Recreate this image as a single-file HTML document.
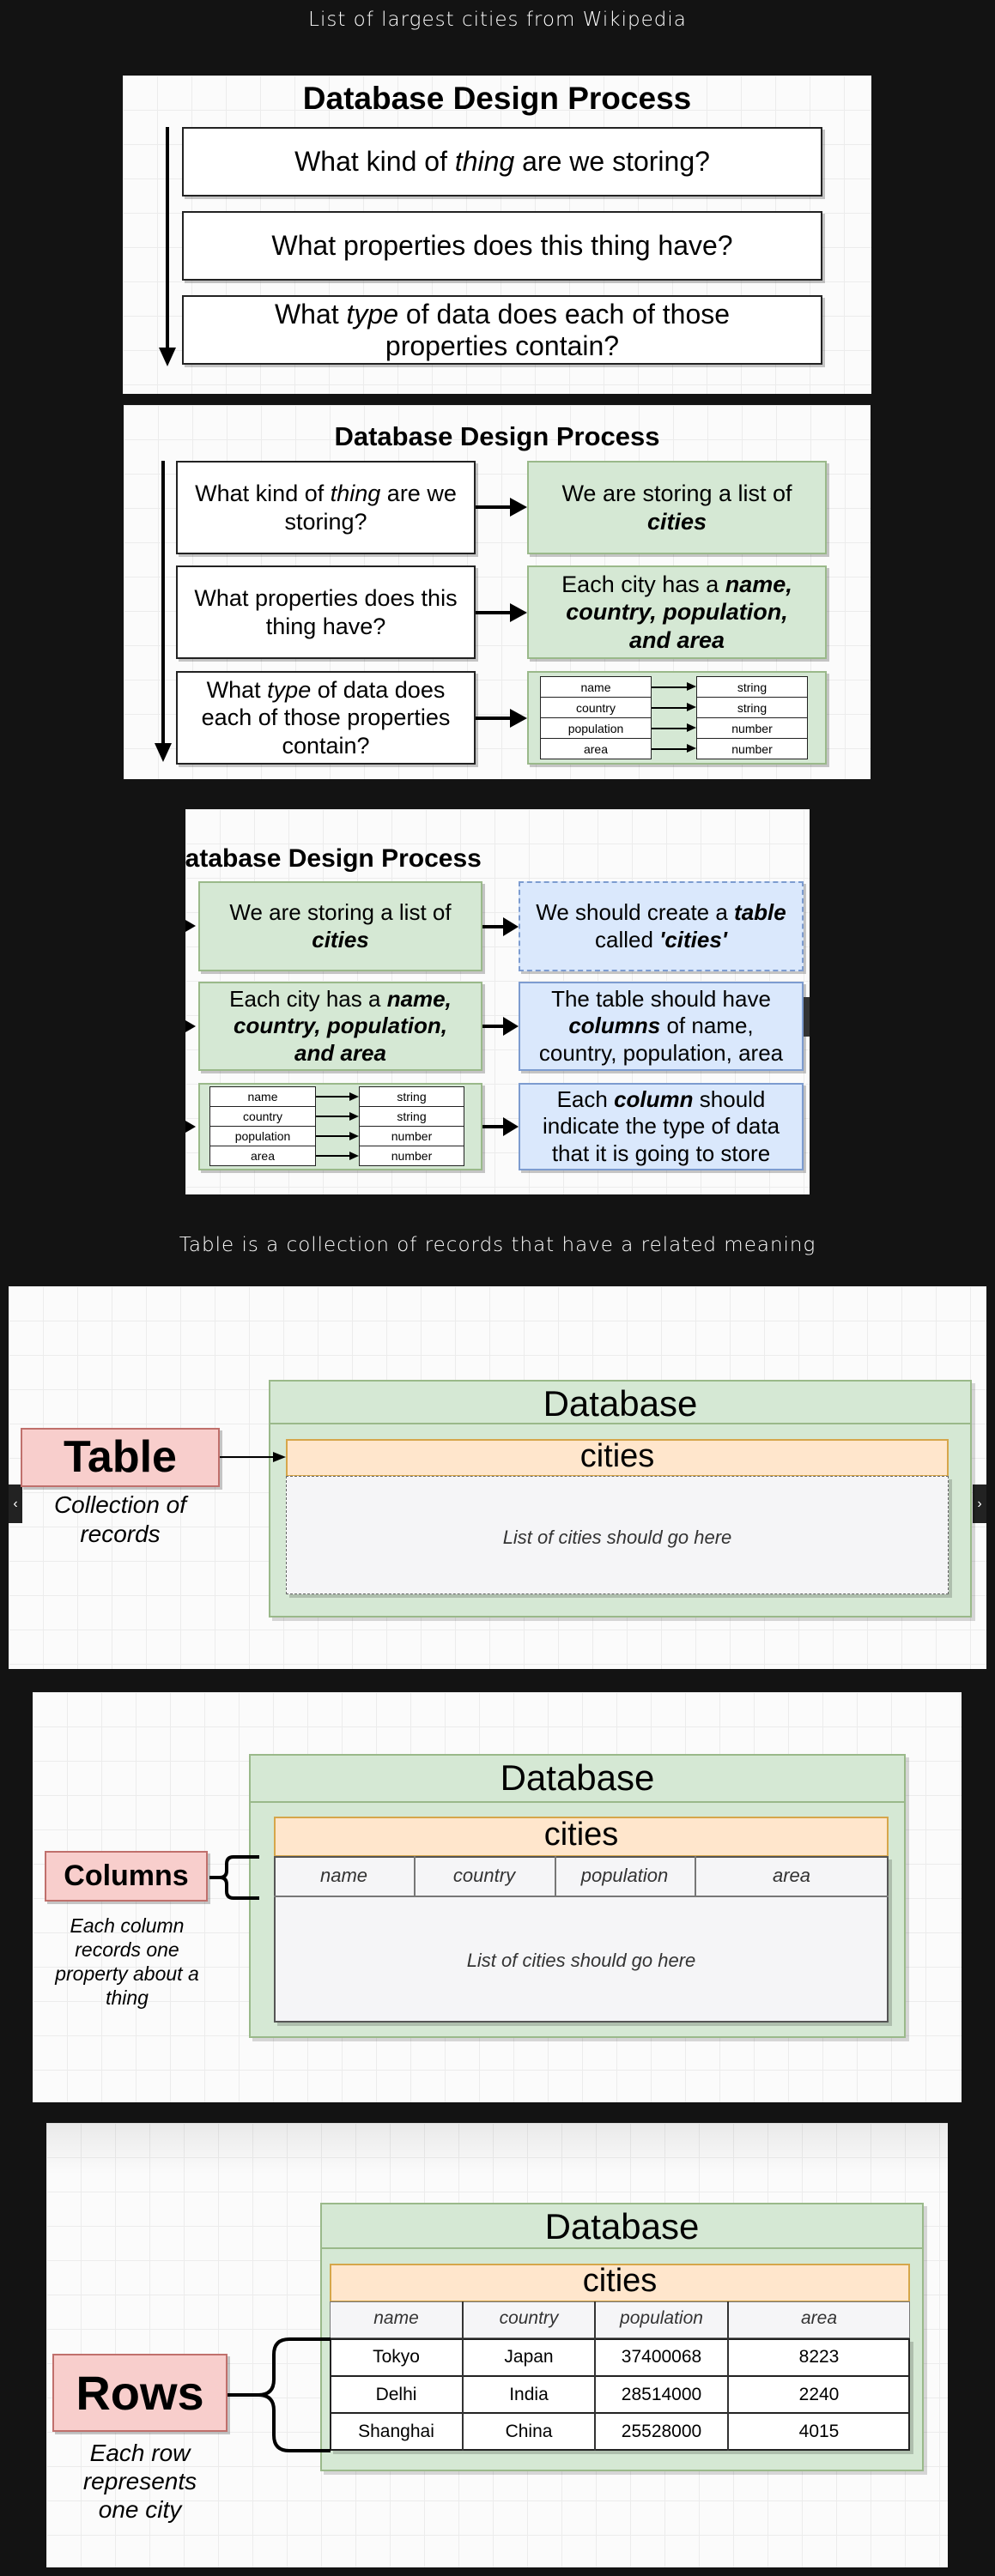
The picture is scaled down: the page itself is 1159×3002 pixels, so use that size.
<!DOCTYPE html>
<html><head><meta charset="utf-8"><style>
*{box-sizing:border-box;margin:0;padding:0}
body{width:1159px;height:3002px;background:#131313;position:relative;overflow:hidden;font-family:"Liberation Sans",Arial,sans-serif;color:#000}
.a{position:absolute}
.p{position:absolute;background-color:#fbfbfb;background-image:linear-gradient(#ececec 1px,transparent 1px),linear-gradient(90deg,#ececec 1px,transparent 1px);background-size:40px 40px}
.b{position:absolute;display:flex;align-items:center;justify-content:center;text-align:center;border:2px solid #222;background:#fff;box-shadow:3px 3px 0 rgba(0,0,0,.22);line-height:1.2}
.b>div{width:100%}
.g{background:#d5e8d4;border:2px solid #9ab98a}
.bl{background:#dae8fc;border:2px solid #7d9cd0}
.t{position:absolute;text-align:center;white-space:nowrap}
.hand{color:#fff;font-family:"DejaVu Sans",sans-serif;font-weight:200;font-size:23px;letter-spacing:1px}
.mini{position:absolute;background:#fff;border:1.5px solid #222;font-size:14px;display:flex;align-items:center;justify-content:center}
.line{position:absolute;background:#000}
.tri{position:absolute;width:0;height:0}
</style></head><body>

<div class="t hand" style="left:0;width:1159px;top:10px">List of largest cities from Wikipedia</div>

<!-- Panel 1 -->
<div class="p" style="left:143px;top:88px;width:872px;height:371px"></div>
<div class="t" style="left:143px;width:872px;top:94px;font-size:37px;font-weight:bold">Database Design Process</div>
<div class="line" style="left:193px;top:148px;width:4px;height:265px"></div>
<div class="tri" style="left:185px;top:405px;border-left:10px solid transparent;border-right:10px solid transparent;border-top:22px solid #000"></div>
<div class="b" style="left:212px;top:148px;width:746px;height:81px;font-size:32px"><div>What kind of <i>thing</i> are we storing?</div></div>
<div class="b" style="left:212px;top:246px;width:746px;height:81px;font-size:32px"><div>What properties does this thing have?</div></div>
<div class="b" style="left:212px;top:344px;width:746px;height:81px;font-size:32px;line-height:1.15"><div>What <i>type</i> of data does each of those<br>properties contain?</div></div>

<!-- Panel 2 -->
<div class="p" style="left:144px;top:472px;width:870px;height:436px"></div>
<div class="t" style="left:144px;width:870px;top:491px;font-size:31px;font-weight:bold">Database Design Process</div>
<div class="line" style="left:188px;top:537px;width:4px;height:335px"></div>
<div class="tri" style="left:180px;top:866px;border-left:10px solid transparent;border-right:10px solid transparent;border-top:22px solid #000"></div>
<div class="b" style="left:205px;top:537px;width:349px;height:109px;font-size:27px"><div>What kind of <i>thing</i> are we<br>storing?</div></div>
<div class="b" style="left:205px;top:659px;width:349px;height:109px;font-size:27px"><div>What properties does this<br>thing have?</div></div>
<div class="b" style="left:205px;top:782px;width:349px;height:109px;font-size:27px"><div>What <i>type</i> of data does<br>each of those properties<br>contain?</div></div>
<div class="b g" style="left:614px;top:537px;width:349px;height:109px;font-size:27px"><div>We are storing a list of<br><b><i>cities</i></b></div></div>
<div class="b g" style="left:614px;top:659px;width:349px;height:109px;font-size:27px"><div>Each city has a <b><i>name,</i></b><br><b><i>country, population,</i></b><br><b><i>and area</i></b></div></div>
<div class="b g" style="left:614px;top:782px;width:349px;height:109px"></div>
<div class="line" style="left:554px;top:589px;width:44px;height:4px"></div><div class="tri" style="left:594px;top:580px;border-top:11px solid transparent;border-bottom:11px solid transparent;border-left:20px solid #000"></div>
<div class="line" style="left:554px;top:712px;width:44px;height:4px"></div><div class="tri" style="left:594px;top:703px;border-top:11px solid transparent;border-bottom:11px solid transparent;border-left:20px solid #000"></div>
<div class="line" style="left:554px;top:835px;width:44px;height:4px"></div><div class="tri" style="left:594px;top:826px;border-top:11px solid transparent;border-bottom:11px solid transparent;border-left:20px solid #000"></div>
<div class="mini" style="left:629px;top:788px;width:130px;height:25px">name</div>
<div class="mini" style="left:629px;top:812px;width:130px;height:25px">country</div>
<div class="mini" style="left:629px;top:836px;width:130px;height:25px">population</div>
<div class="mini" style="left:629px;top:860px;width:130px;height:25px">area</div>
<div class="mini" style="left:811px;top:788px;width:130px;height:25px">string</div>
<div class="mini" style="left:811px;top:812px;width:130px;height:25px">string</div>
<div class="mini" style="left:811px;top:836px;width:130px;height:25px">number</div>
<div class="mini" style="left:811px;top:860px;width:130px;height:25px">number</div>
<div class="line" style="left:759px;top:800px;width:44px;height:1.5px"></div><div class="tri" style="left:800px;top:795px;border-top:5px solid transparent;border-bottom:5px solid transparent;border-left:11px solid #000"></div>
<div class="line" style="left:759px;top:824px;width:44px;height:1.5px"></div><div class="tri" style="left:800px;top:819px;border-top:5px solid transparent;border-bottom:5px solid transparent;border-left:11px solid #000"></div>
<div class="line" style="left:759px;top:848px;width:44px;height:1.5px"></div><div class="tri" style="left:800px;top:843px;border-top:5px solid transparent;border-bottom:5px solid transparent;border-left:11px solid #000"></div>
<div class="line" style="left:759px;top:872px;width:44px;height:1.5px"></div><div class="tri" style="left:800px;top:867px;border-top:5px solid transparent;border-bottom:5px solid transparent;border-left:11px solid #000"></div>

<!-- Panel 3 -->
<div class="p" style="left:216px;top:943px;width:727px;height:449px;overflow:hidden">
  <div class="t" style="left:-22px;top:41px;font-size:30px;font-weight:bold">Database Design Process</div>
</div>
<div class="b g" style="left:231px;top:1027px;width:331px;height:105px;font-size:26px"><div>We are storing a list of<br><b><i>cities</i></b></div></div>
<div class="b g" style="left:231px;top:1144px;width:331px;height:104px;font-size:26px"><div>Each city has a <b><i>name,</i></b><br><b><i>country, population,</i></b><br><b><i>and area</i></b></div></div>
<div class="b g" style="left:231px;top:1262px;width:331px;height:102px"></div>
<div class="b bl" style="left:604px;top:1027px;width:332px;height:105px;font-size:26px;border-style:dashed"><div>We should create a <b><i>table</i></b><br>called <b><i>'cities'</i></b></div></div>
<div class="b bl" style="left:604px;top:1144px;width:332px;height:104px;font-size:26px"><div>The table should have<br><b><i>columns</i></b> of name,<br>country, population, area</div></div>
<div class="b bl" style="left:604px;top:1262px;width:332px;height:102px;font-size:26px"><div>Each <b><i>column</i></b> should<br>indicate the type of data<br>that it is going to store</div></div>
<div class="a" style="left:936px;top:1162px;width:7px;height:46px;background:#333"></div>
<div class="line" style="left:562px;top:1078px;width:28px;height:4px"></div><div class="tri" style="left:586px;top:1069px;border-top:11px solid transparent;border-bottom:11px solid transparent;border-left:18px solid #000"></div>
<div class="line" style="left:562px;top:1194px;width:28px;height:4px"></div><div class="tri" style="left:586px;top:1185px;border-top:11px solid transparent;border-bottom:11px solid transparent;border-left:18px solid #000"></div>
<div class="line" style="left:562px;top:1311px;width:28px;height:4px"></div><div class="tri" style="left:586px;top:1302px;border-top:11px solid transparent;border-bottom:11px solid transparent;border-left:18px solid #000"></div>
<div class="tri" style="left:216px;top:1072px;border-top:7px solid transparent;border-bottom:7px solid transparent;border-left:12px solid #000"></div>
<div class="tri" style="left:216px;top:1189px;border-top:7px solid transparent;border-bottom:7px solid transparent;border-left:12px solid #000"></div>
<div class="tri" style="left:216px;top:1306px;border-top:7px solid transparent;border-bottom:7px solid transparent;border-left:12px solid #000"></div>
<div class="mini" style="left:244px;top:1266px;width:124px;height:24px">name</div>
<div class="mini" style="left:244px;top:1289px;width:124px;height:24px">country</div>
<div class="mini" style="left:244px;top:1312px;width:124px;height:24px">population</div>
<div class="mini" style="left:244px;top:1335px;width:124px;height:24px">area</div>
<div class="mini" style="left:418px;top:1266px;width:123px;height:24px">string</div>
<div class="mini" style="left:418px;top:1289px;width:123px;height:24px">string</div>
<div class="mini" style="left:418px;top:1312px;width:123px;height:24px">number</div>
<div class="mini" style="left:418px;top:1335px;width:123px;height:24px">number</div>
<div class="line" style="left:368px;top:1277px;width:42px;height:1.5px"></div><div class="tri" style="left:407px;top:1273px;border-top:5px solid transparent;border-bottom:5px solid transparent;border-left:11px solid #000"></div>
<div class="line" style="left:368px;top:1300px;width:42px;height:1.5px"></div><div class="tri" style="left:407px;top:1296px;border-top:5px solid transparent;border-bottom:5px solid transparent;border-left:11px solid #000"></div>
<div class="line" style="left:368px;top:1323px;width:42px;height:1.5px"></div><div class="tri" style="left:407px;top:1319px;border-top:5px solid transparent;border-bottom:5px solid transparent;border-left:11px solid #000"></div>
<div class="line" style="left:368px;top:1346px;width:42px;height:1.5px"></div><div class="tri" style="left:407px;top:1342px;border-top:5px solid transparent;border-bottom:5px solid transparent;border-left:11px solid #000"></div>

<div class="t hand" style="left:0;width:1159px;top:1438px">Table is a collection of records that have a related meaning</div>

<!-- Panel 4 -->
<div class="p" style="left:10px;top:1499px;width:1139px;height:446px"></div>
<div class="a" style="left:10px;top:1730px;width:16px;height:45px;background:#222;color:#fff;font-size:16px;text-align:center;line-height:45px">‹</div>
<div class="a" style="left:1133px;top:1730px;width:16px;height:45px;background:#222;color:#fff;font-size:16px;text-align:center;line-height:45px">›</div>
<div class="a g" style="left:313px;top:1608px;width:819px;height:277px;border:2px solid #9ab98a;box-shadow:4px 4px 0 rgba(0,0,0,.15)"></div>
<div class="a" style="left:313px;top:1658px;width:819px;height:2px;background:#9ab98a"></div>
<div class="t" style="left:313px;width:819px;top:1612px;font-size:42px">Database</div>
<div class="a" style="left:333px;top:1677px;width:772px;height:44px;background:#ffe6cc;border:2px solid #d6a64a"></div>
<div class="t" style="left:333px;width:772px;top:1676px;font-size:38px">cities</div>
<div class="a" style="left:333px;top:1720px;width:772px;height:138px;background:#f5f5f7;border:1.5px dashed #666;box-shadow:4px 4px 0 rgba(0,0,0,.18)"></div>
<div class="t" style="left:333px;width:772px;top:1779px;font-size:22px;font-style:italic;color:#333">List of cities should go here</div>
<div class="b" style="left:24px;top:1664px;width:232px;height:69px;background:#f8cecc;border:2px solid #c0706c;font-size:52px;font-weight:bold"><div>Table</div></div>
<div class="t" style="left:24px;width:232px;top:1737px;font-size:28px;font-style:italic;line-height:34px">Collection of<br>records</div>
<div class="line" style="left:256px;top:1697px;width:66px;height:2px"></div>
<div class="tri" style="left:318px;top:1692px;border-top:6px solid transparent;border-bottom:6px solid transparent;border-left:15px solid #000"></div>

<!-- Panel 5 -->
<div class="p" style="left:38px;top:1972px;width:1082px;height:478px"></div>
<div class="a g" style="left:290px;top:2044px;width:765px;height:331px;border:2px solid #9ab98a;box-shadow:4px 4px 0 rgba(0,0,0,.15)"></div>
<div class="a" style="left:290px;top:2099px;width:765px;height:2px;background:#9ab98a"></div>
<div class="t" style="left:290px;width:765px;top:2048px;font-size:42px">Database</div>
<div class="a" style="left:319px;top:2117px;width:716px;height:47px;background:#ffe6cc;border:2px solid #d6a64a"></div>
<div class="t" style="left:319px;width:716px;top:2117px;font-size:38px">cities</div>
<div class="a" style="left:319px;top:2163px;width:716px;height:194px;background:#f5f5f7;border:2px solid #555;box-shadow:4px 4px 0 rgba(0,0,0,.18)"></div>
<div class="a" style="left:319px;top:2209px;width:716px;height:2px;background:#777"></div>
<div class="a" style="left:482px;top:2163px;width:2px;height:47px;background:#777"></div>
<div class="a" style="left:646px;top:2163px;width:2px;height:47px;background:#777"></div>
<div class="a" style="left:809px;top:2163px;width:2px;height:47px;background:#777"></div>
<div class="t" style="left:319px;width:163px;top:2173px;font-size:22px;font-style:italic;color:#333">name</div>
<div class="t" style="left:482px;width:164px;top:2173px;font-size:22px;font-style:italic;color:#333">country</div>
<div class="t" style="left:646px;width:163px;top:2173px;font-size:22px;font-style:italic;color:#333">population</div>
<div class="t" style="left:809px;width:226px;top:2173px;font-size:22px;font-style:italic;color:#333">area</div>
<div class="t" style="left:319px;width:716px;top:2272px;font-size:22px;font-style:italic;color:#333">List of cities should go here</div>
<div class="b" style="left:52px;top:2157px;width:190px;height:59px;background:#f8cecc;border:2px solid #c0706c;font-size:34px;font-weight:bold"><div>Columns</div></div>
<div class="t" style="left:40px;width:216px;top:2230px;font-size:23px;font-style:italic;line-height:28px">Each column<br>records one<br>property about a<br>thing</div>
<svg class="a" style="left:240px;top:2160px" width="66" height="56"><path d="M4 28 H16 Q24 28 24 20 V12 Q24 4 32 4 H62 M16 28 Q24 28 24 36 V44 Q24 52 32 52 H62" fill="none" stroke="#000" stroke-width="4"/></svg>

<!-- Panel 6 -->
<div class="p" style="left:54px;top:2474px;width:1050px;height:518px"></div>
<div class="a" style="left:54px;top:2474px;width:1050px;height:60px;background:linear-gradient(rgba(0,0,0,.07),transparent)"></div>
<div class="a g" style="left:373px;top:2567px;width:703px;height:313px;border:2px solid #9ab98a;box-shadow:4px 4px 0 rgba(0,0,0,.15)"></div>
<div class="a" style="left:373px;top:2619px;width:703px;height:2px;background:#9ab98a"></div>
<div class="t" style="left:373px;width:703px;top:2571px;font-size:42px">Database</div>
<div class="a" style="left:384px;top:2638px;width:676px;height:45px;background:#ffe6cc;border:2px solid #d6a64a"></div>
<div class="t" style="left:384px;width:676px;top:2637px;font-size:38px">cities</div>
<div class="a" style="left:384px;top:2682px;width:676px;height:43px;background:#f5f5f7;border:1.5px solid #777"></div>
<div class="a" style="left:384px;top:2725px;width:676px;height:131px;background:#fff;border:2px solid #222;box-shadow:4px 4px 0 rgba(0,0,0,.18)"></div>
<div class="a" style="left:384px;top:2768px;width:676px;height:2px;background:#222"></div>
<div class="a" style="left:384px;top:2811px;width:676px;height:2px;background:#222"></div>
<div class="a" style="left:538px;top:2682px;width:2px;height:174px;background:#333"></div>
<div class="a" style="left:692px;top:2682px;width:2px;height:174px;background:#333"></div>
<div class="a" style="left:847px;top:2682px;width:2px;height:174px;background:#333"></div>
<div class="t" style="left:384px;width:155px;top:2690px;font-size:21px;font-style:italic;color:#333">name</div>
<div class="t" style="left:539px;width:154px;top:2690px;font-size:21px;font-style:italic;color:#333">country</div>
<div class="t" style="left:693px;width:155px;top:2690px;font-size:21px;font-style:italic;color:#333">population</div>
<div class="t" style="left:848px;width:212px;top:2690px;font-size:21px;font-style:italic;color:#333">area</div>
<div class="t" style="left:384px;width:155px;top:2735px;font-size:21px">Tokyo</div>
<div class="t" style="left:539px;width:154px;top:2735px;font-size:21px">Japan</div>
<div class="t" style="left:693px;width:155px;top:2735px;font-size:21px">37400068</div>
<div class="t" style="left:848px;width:212px;top:2735px;font-size:21px">8223</div>
<div class="t" style="left:384px;width:155px;top:2779px;font-size:21px">Delhi</div>
<div class="t" style="left:539px;width:154px;top:2779px;font-size:21px">India</div>
<div class="t" style="left:693px;width:155px;top:2779px;font-size:21px">28514000</div>
<div class="t" style="left:848px;width:212px;top:2779px;font-size:21px">2240</div>
<div class="t" style="left:384px;width:155px;top:2822px;font-size:21px">Shanghai</div>
<div class="t" style="left:539px;width:154px;top:2822px;font-size:21px">China</div>
<div class="t" style="left:693px;width:155px;top:2822px;font-size:21px">25528000</div>
<div class="t" style="left:848px;width:212px;top:2822px;font-size:21px">4015</div>
<div class="b" style="left:61px;top:2743px;width:204px;height:91px;background:#f8cecc;border:2px solid #c0706c;font-size:56px;font-weight:bold"><div>Rows</div></div>
<div class="t" style="left:61px;width:204px;top:2842px;font-size:28px;font-style:italic;line-height:33px">Each row<br>represents<br>one city</div>
<svg class="a" style="left:263px;top:2722px" width="124" height="138"><path d="M2 69 H38 Q56 69 56 51 V22 Q56 4 74 4 H122 M38 69 Q56 69 56 87 V116 Q56 134 74 134 H122" fill="none" stroke="#000" stroke-width="4"/></svg>

</body></html>
